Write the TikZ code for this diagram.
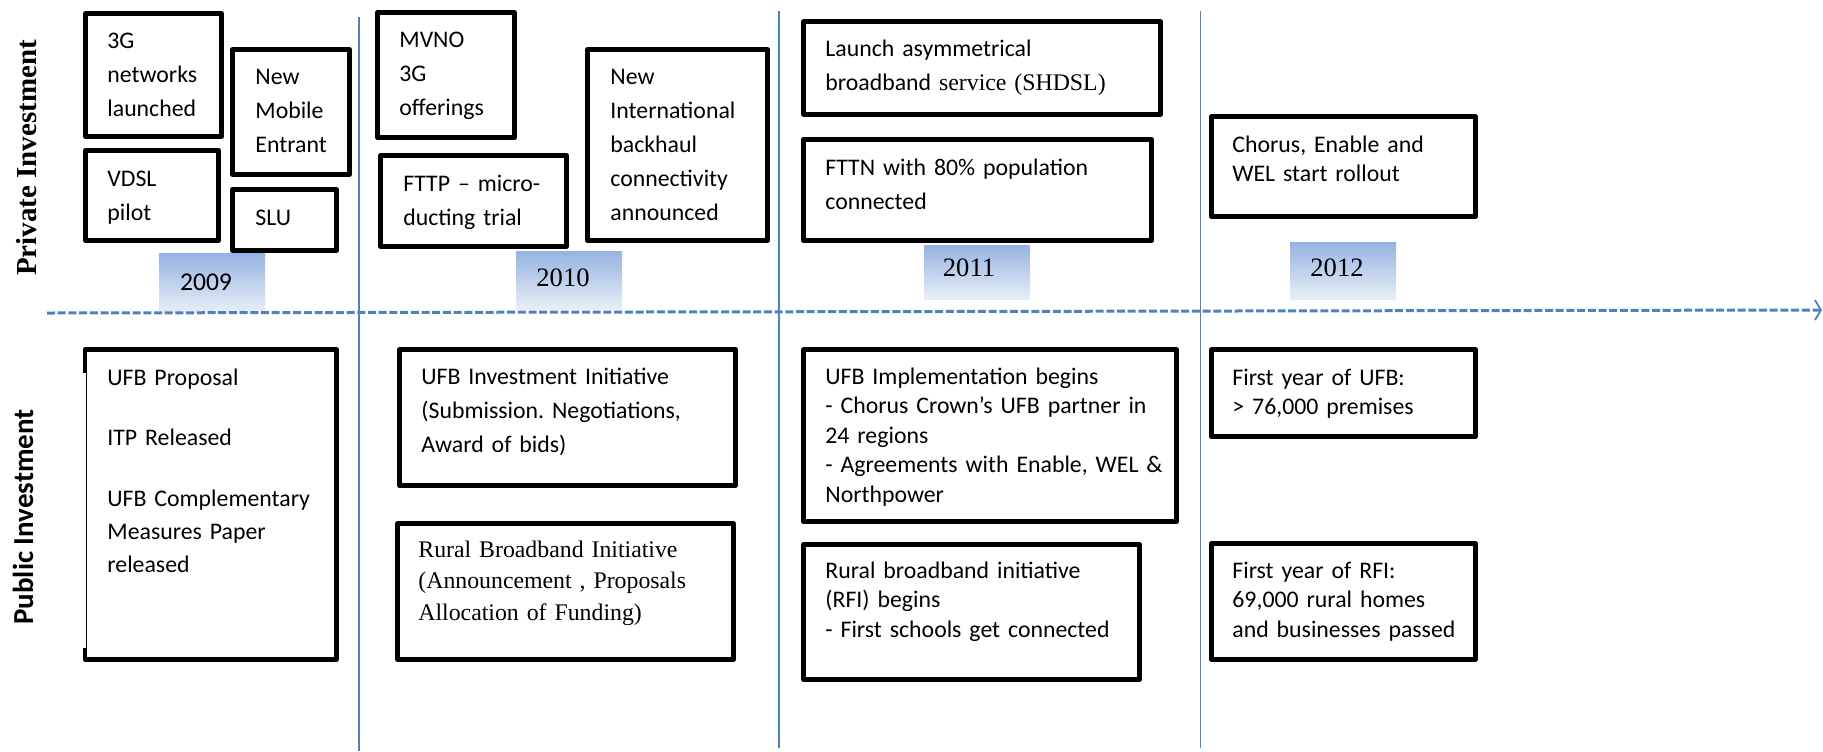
\documentclass[tikz,border=0pt]{standalone}
\usepackage{fontspec}
\setmainfont{Carlito}
\newfontfamily\tnr{Liberation Serif}
\usepackage{tikz}
\usetikzlibrary{arrows.meta}
\tikzset{>=latex}
\definecolor{lineblue}{RGB}{79, 129, 189}
\definecolor{yeartop}{RGB}{149, 179, 225}
\definecolor{yearbot}{RGB}{232, 238, 248}
\frenchspacing

\begin{document}
\begin{tikzpicture}[
    x = 0.5pt, y = -0.5pt,
    bx/.style = {line width = 2.4pt, line join = round, fill = white},
    tx/.style = {anchor = base west, inner sep = 0pt, text width = 200pt, align = left, font = \fontsize{11.9}{17}\selectfont},
    txs/.style = {tx, font = \fontsize{11.9}{14.75}\selectfont},
    yr/.style = {top color = yeartop, bottom color = yearbot},
    yl/.style = {inner sep = 0pt, font = \fontsize{13.3}{16}\selectfont\tnr},
    vl/.style = {draw = lineblue, line width = 0.85pt},
    tl/.style = {draw = lineblue, line width = 1.5pt, dash pattern = on 4pt off 1.35pt, -{Straight Barb[length = 3pt, width = 10pt, line width = 0.9pt]}},
]
\useasboundingbox (0,0) rectangle (1823,751);

\node[rotate = 90, font = \fontsize{14.5}{17}\selectfont\tnr\bfseries] (priv) at (27,158) {Private Investment};
\node[rotate = 90, font = \fontsize{14.5}{17}\selectfont\bfseries] (pub) at (23,517) {Public Investment};

\draw[vl] (359,17) -- (359,751);
\draw[vl] (779,11) -- (779,748);
\draw[vl] (1200.5,11) -- (1200.5,748);

\path[yr] (159,253) rectangle (265,312);
\path[yr] (516,251) rectangle (622,309);
\path[yr] (924,245) rectangle (1030,299);
\path[yr] (1290,242) rectangle (1396,299);
\node[yl, font = \fontsize{12.8}{15}\selectfont] (y09) at (206,282) {2009};
\node[yl] (y10) at (563,278) {2010};
\node[yl] (y11) at (969,268) {2011};
\node[yl] (y12) at (1337,268) {2012};

\coordinate (tstart) at (47,313);
\coordinate (tend) at (1822,310);
\draw[tl] (tstart) -- (tend);

\draw[bx] (85.5,13.5) rectangle (221.5,136.5);
\node[tx] (g3) at (107,48) {3G\\networks\\launched};
\draw[bx] (232.5,49.5) rectangle (349.5,174.5);
\node[tx] (mob) at (255,84) {New\\Mobile\\Entrant};
\draw[bx] (85.5,150.5) rectangle (218.5,240.5);
\node[tx] (vdsl) at (107,186) {VDSL\\pilot};
\draw[bx] (232.5,189.5) rectangle (336.5,250.5);
\node[tx] (slu) at (255,225) {SLU};
\draw[bx] (377.5,12.5) rectangle (514.5,137.5);
\node[tx] (mvno) at (399,47) {MVNO\\3G\\offerings};
\draw[bx] (380.5,155.5) rectangle (566.5,246.5);
\node[tx] (fttp) at (403,191) {FTTP – micro-\\ducting trial};
\draw[bx] (587.5,49.5) rectangle (767.5,240.5);
\node[tx] (intl) at (610,84) {New\\International\\backhaul\\connectivity\\announced};
\draw[bx] (803.5,21.5) rectangle (1160.5,114.5);
\node[tx] (shdsl) at (825,56) {Launch asymmetrical\\broadband {\tnr service (SHDSL)}};
\draw[bx] (803.5,139.5) rectangle (1151.5,240.5);
\node[tx] (fttn) at (825,175) {FTTN with 80\% population\\connected};
\draw[bx] (1211.5,116.5) rectangle (1475.5,216.5);
\node[txs] (chorus) at (1232,152) {Chorus, Enable and\\WEL start rollout};

\fill[white] (85,349.5) rectangle (336.5,659.5);
\draw[bx] (85,373) -- (85,349.5) -- (336.5,349.5) -- (336.5,659.5) -- (85,659.5) -- (85,648);
\draw[line width = 0.6pt] (86.5,349.5) -- (86.5,659.5);
\node[tx, font = \fontsize{11.9}{16.5}\selectfont] (ufbp) at (107,385) {UFB Proposal\\[13.5pt]ITP Released\\[14pt]UFB Complementary\\Measures Paper\\released};
\draw[bx] (399.5,349.5) rectangle (735.5,485.5);
\node[tx] (ufbi) at (421,384) {UFB Investment Initiative\\(Submission. Negotiations,\\Award of bids)};
\draw[bx] (397.5,523.5) rectangle (733.5,659.5);
\node[tx, font = \fontsize{11.9}{15.75}\selectfont\tnr] (rbi) at (418,557) {Rural Broadband Initiative\\(Announcement , Proposals\\Allocation of Funding)};
\draw[bx] (803.5,349.5) rectangle (1176.5,521.5);
\node[txs] (impl) at (825,384) {UFB Implementation begins\\- Chorus Crown’s UFB partner in\\24 regions\\- Agreements with Enable, WEL \&\\Northpower};
\draw[bx] (803.5,544.5) rectangle (1139.5,679.5);
\node[txs] (rfi) at (825,578) {Rural broadband initiative\\(RFI) begins\\- First schools get connected};
\draw[bx] (1211.5,349.5) rectangle (1475.5,436.5);
\node[txs] (fy1) at (1232,385) {First year of UFB:\\> 76,000 premises};
\draw[bx] (1211.5,543.5) rectangle (1475.5,659.5);
\node[txs] (fy2) at (1232,578) {First year of RFI:\\69,000 rural homes\\and businesses passed};
\end{tikzpicture}
\end{document}
